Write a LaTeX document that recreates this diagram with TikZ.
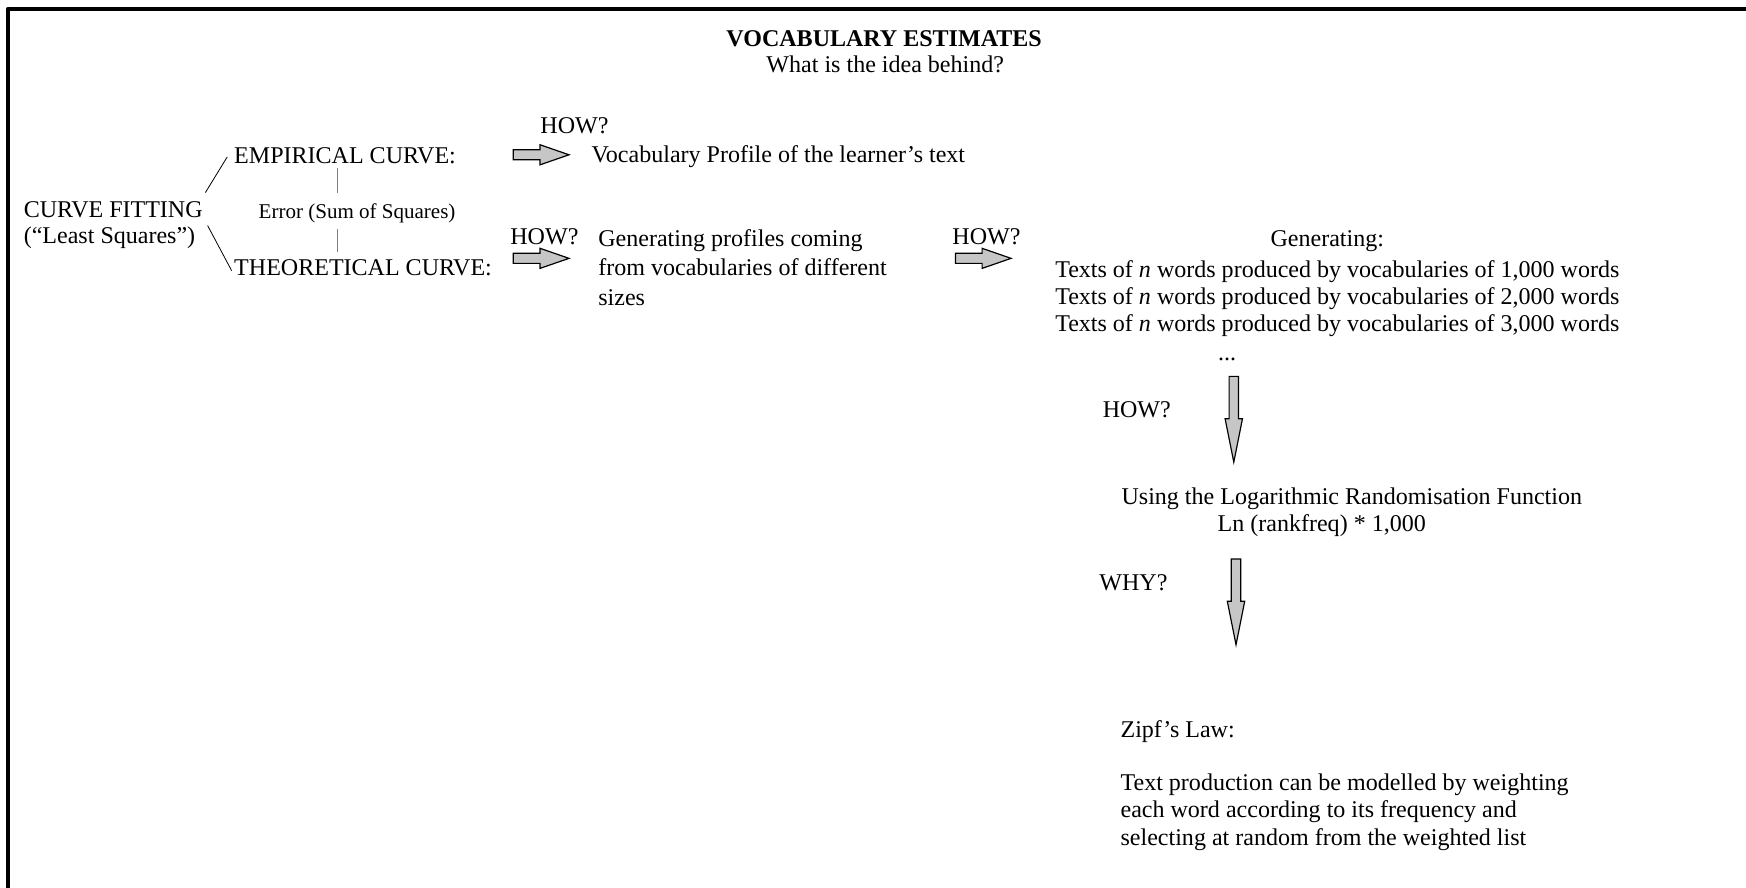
\documentclass[tikz,border=0pt]{standalone}
\usepackage{fontspec}
\setmainfont{Liberation Serif}
\usetikzlibrary{positioning}

\tikzset{
  txt/.style={anchor=base west,inner sep=0pt,align=left,font=\fontsize{12}{13.6}\selectfont},
  ctxt/.style={anchor=base,inner sep=0pt,align=center,font=\fontsize{12}{13.6}\selectfont},
  small/.style={font=\fontsize{10.5}{12}\selectfont},
  tick/.style={draw=gray,line width=0.6pt},
  blockarr/.style={draw,fill=gray!45,line width=0.6pt,line join=miter},
}
% block arrows: #1,#2 = middle of the tail
\newcommand\harrow[2]{\draw[blockarr] (#1,#2-4.5) -- (#1+24,#2-4.5) -- (#1+24,#2-9) -- (#1+50,#2) -- (#1+24,#2+9) -- (#1+24,#2+4.5) -- (#1,#2+4.5) -- cycle;}
\newcommand\varrow[2]{\draw[blockarr] (#1-4.2,#2) -- (#1+4.2,#2) -- (#1+4.2,#2+38) -- (#1+7.8,#2+38) -- (#1,#2+77) -- (#1-7.8,#2+38) -- (#1-4.2,#2+38) -- cycle;}

\begin{document}
\begin{tikzpicture}[x=0.01955cm,y=-0.01955cm,line join=round]
\useasboundingbox (0,0) rectangle (1568,797);
% --- frame
\draw[line width=2pt] (7,800) -- (7,8) -- (1570,8);
% --- heading
\node[ctxt,font=\fontsize{12}{13.6}\selectfont\bfseries] (title) at (794,42) {VOCABULARY ESTIMATES};
\node[ctxt] (idea) at (795,65) {What is the idea behind?};
% --- curve fitting
\node[txt,font=\fontsize{12}{13}\selectfont] (fit) at (21,219) {CURVE FITTING\\(“Least Squares”)};
\node[txt] (emp) at (210,147) {EMPIRICAL CURVE:};
\node[txt] (theo) at (210,247) {THEORETICAL CURVE:};
\node[txt,small] (err) at (232,196) {Error (Sum of Squares)};
\draw ([shift={(2,-8)}]fit.north east) -- ([shift={(-6,1)}]emp.west);
\draw ([shift={(4,0)}]fit.east) -- ([shift={(-2,3)}]theo.west);
\draw[tick] ([shift={(93,3)}]emp.south west) -- ([shift={(71,-9)}]err.north west);
\draw[tick] ([shift={(71,5)}]err.south west) -- ([shift={(93,-6)}]theo.north west);
% --- empirical branch
\node[txt] (how1) at (485,120) {HOW?};
\harrow{461}{139}
\node[txt] (prof) at (531,146) {Vocabulary Profile of the learner’s text};
% --- theoretical branch
\node[txt] (how2) at (458,220) {HOW?};
\harrow{461}{232}
\node[txt,font=\fontsize{12}{14.7}\selectfont] (gen) at (537,274) {Generating profiles coming\\from vocabularies of different\\sizes};
\node[txt] (how3) at (855,220) {HOW?};
\harrow{858}{232}
\node[ctxt] (gtitle) at (1192,221) {Generating:};
\node[ctxt] (texts) at (1201,298) {Texts of \textit{n} words produced by vocabularies of 1,000 words\\
  Texts of \textit{n} words produced by vocabularies of 2,000 words\\
  Texts of \textit{n} words produced by vocabularies of 3,000 words};
\node[ctxt] (dots) at (1102,324) {...};
% --- downward chain
\node[txt] (how4) at (990,375) {HOW?};
\varrow{1108}{338}
\node[ctxt] (logf) at (1214,453) {Using the Logarithmic Randomisation Function};
\node[ctxt] (logln) at (1187,477) {Ln (rankfreq) * 1,000};
\node[txt] (why) at (987,530) {WHY?};
\varrow{1110}{502}
\node[txt] (zipf) at (1006,662) {Zipf’s Law:};
\node[txt] (zipft) at (1006,759) {Text production can be modelled by weighting\\each word according to its frequency and\\selecting at random from the weighted list};
\end{tikzpicture}
\end{document}
